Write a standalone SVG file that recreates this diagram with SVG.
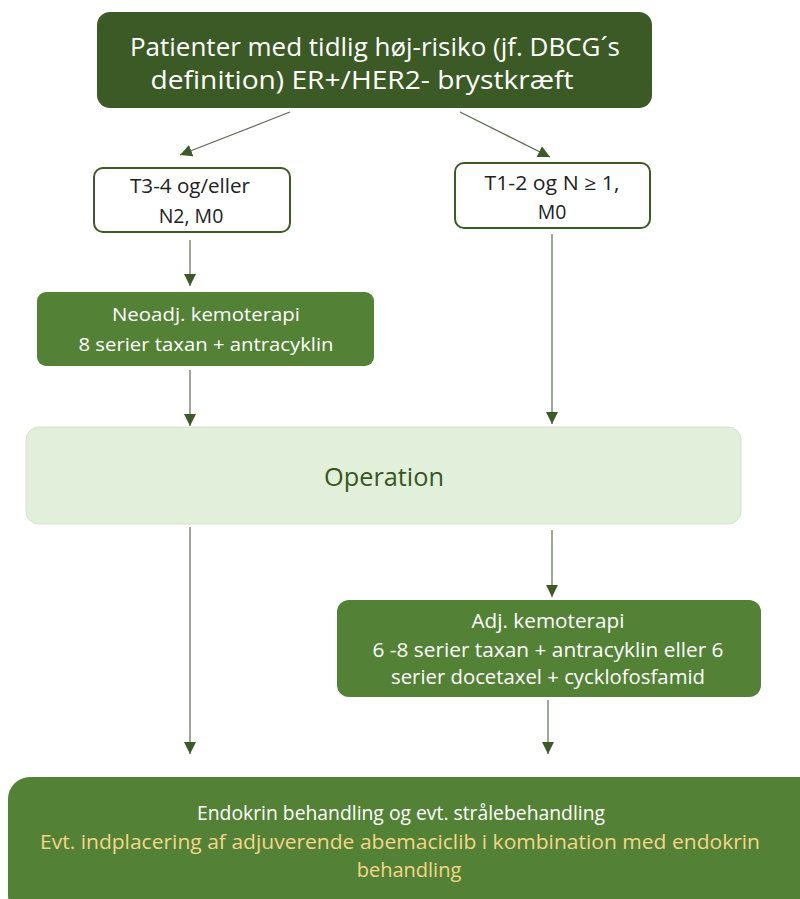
<svg xmlns="http://www.w3.org/2000/svg" width="800" height="899" viewBox="0 0 800 899">
<style>
text{font-family:"Open Sans","Liberation Sans",sans-serif;text-anchor:middle}
.w{fill:#ffffff}
.y{fill:#f4d68a}
.c{stroke:#5d6b53;stroke-width:1.2;fill:none}
</style>
<defs>
<marker id="ah" viewBox="0 0 10 10" refX="10" refY="5" markerWidth="12" markerHeight="12" markerUnits="userSpaceOnUse" orient="auto">
<path d="M0,0 L10,5 L0,10 z" fill="#3b5a25"/>
</marker>
</defs>
<rect width="800" height="899" fill="#ffffff"/>
<g id="connectors">
<line class="c" x1="290" y1="112" x2="180" y2="155" marker-end="url(#ah)"/>
<line class="c" x1="460" y1="112" x2="550" y2="157" marker-end="url(#ah)"/>
<line class="c" x1="190" y1="240" x2="190" y2="286" marker-end="url(#ah)"/>
<line class="c" x1="190" y1="370" x2="190" y2="426" marker-end="url(#ah)"/>
<line class="c" x1="552" y1="234" x2="552" y2="424" marker-end="url(#ah)"/>
<line class="c" x1="190" y1="527" x2="190" y2="754" marker-end="url(#ah)"/>
<line class="c" x1="552" y1="530" x2="552" y2="597" marker-end="url(#ah)"/>
<line class="c" x1="548" y1="700" x2="548" y2="754" marker-end="url(#ah)"/>
</g>
<g id="top">
<rect x="97" y="12" width="555" height="96" rx="13" fill="#3b5a25"/>
<text class="w" x="375" y="56" font-size="25" textLength="490" lengthAdjust="spacingAndGlyphs">Patienter med tidlig høj-risiko (jf. DBCG´s</text>
<text class="w" x="362" y="89" font-size="25" textLength="423" lengthAdjust="spacingAndGlyphs">definition) ER+/HER2- brystkræft</text>
</g>
<g id="left-criteria">
<rect x="94" y="168" width="196" height="64" rx="9" fill="#ffffff" stroke="#3b5a25" stroke-width="2"/>
<text x="190" y="193" font-size="19.5" fill="#222" textLength="120" lengthAdjust="spacingAndGlyphs">T3-4 og/eller</text>
<text x="191" y="223" font-size="19.5" fill="#222">N2, M0</text>
</g>
<g id="right-criteria">
<rect x="455" y="163" width="195" height="65" rx="9" fill="#ffffff" stroke="#3b5a25" stroke-width="2"/>
<text x="552" y="190" font-size="19.5" fill="#222" textLength="135" lengthAdjust="spacingAndGlyphs">T1-2 og N ≥ 1,</text>
<text x="552" y="219" font-size="19.5" fill="#222">M0</text>
</g>
<g id="neoadj">
<rect x="37" y="292" width="337" height="74" rx="9" fill="#538135"/>
<text class="w" x="206" y="321" font-size="19" textLength="188" lengthAdjust="spacingAndGlyphs">Neoadj. kemoterapi</text>
<text class="w" x="206" y="351" font-size="19" textLength="255" lengthAdjust="spacingAndGlyphs">8 serier taxan + antracyklin</text>
</g>
<g id="operation">
<rect x="26" y="427" width="715" height="97" rx="13" fill="#e2efda" stroke="#d3e2c9" stroke-width="1"/>
<text x="384" y="486" font-size="25" fill="#375623" textLength="120" lengthAdjust="spacingAndGlyphs">Operation</text>
</g>
<g id="adj">
<rect x="337" y="600" width="424" height="97" rx="12" fill="#538135"/>
<text class="w" x="548" y="628" font-size="20" textLength="153" lengthAdjust="spacingAndGlyphs">Adj. kemoterapi</text>
<text class="w" x="548" y="657" font-size="20" textLength="351" lengthAdjust="spacingAndGlyphs">6 -8 serier taxan + antracyklin eller 6</text>
<text class="w" x="548" y="684" font-size="20" textLength="314" lengthAdjust="spacingAndGlyphs">serier docetaxel + cycklofosfamid</text>
</g>
<g id="endocrine">
<rect x="8" y="777" width="812" height="140" rx="22" fill="#538135"/>
<text class="w" x="401" y="820" font-size="20" textLength="408" lengthAdjust="spacingAndGlyphs">Endokrin behandling og evt. strålebehandling</text>
<text class="y" x="400" y="849" font-size="20" textLength="720" lengthAdjust="spacingAndGlyphs">Evt. indplacering af adjuverende abemaciclib i kombination med endokrin</text>
<text class="y" x="409" y="877" font-size="20">behandling</text>
</g>
</svg>
